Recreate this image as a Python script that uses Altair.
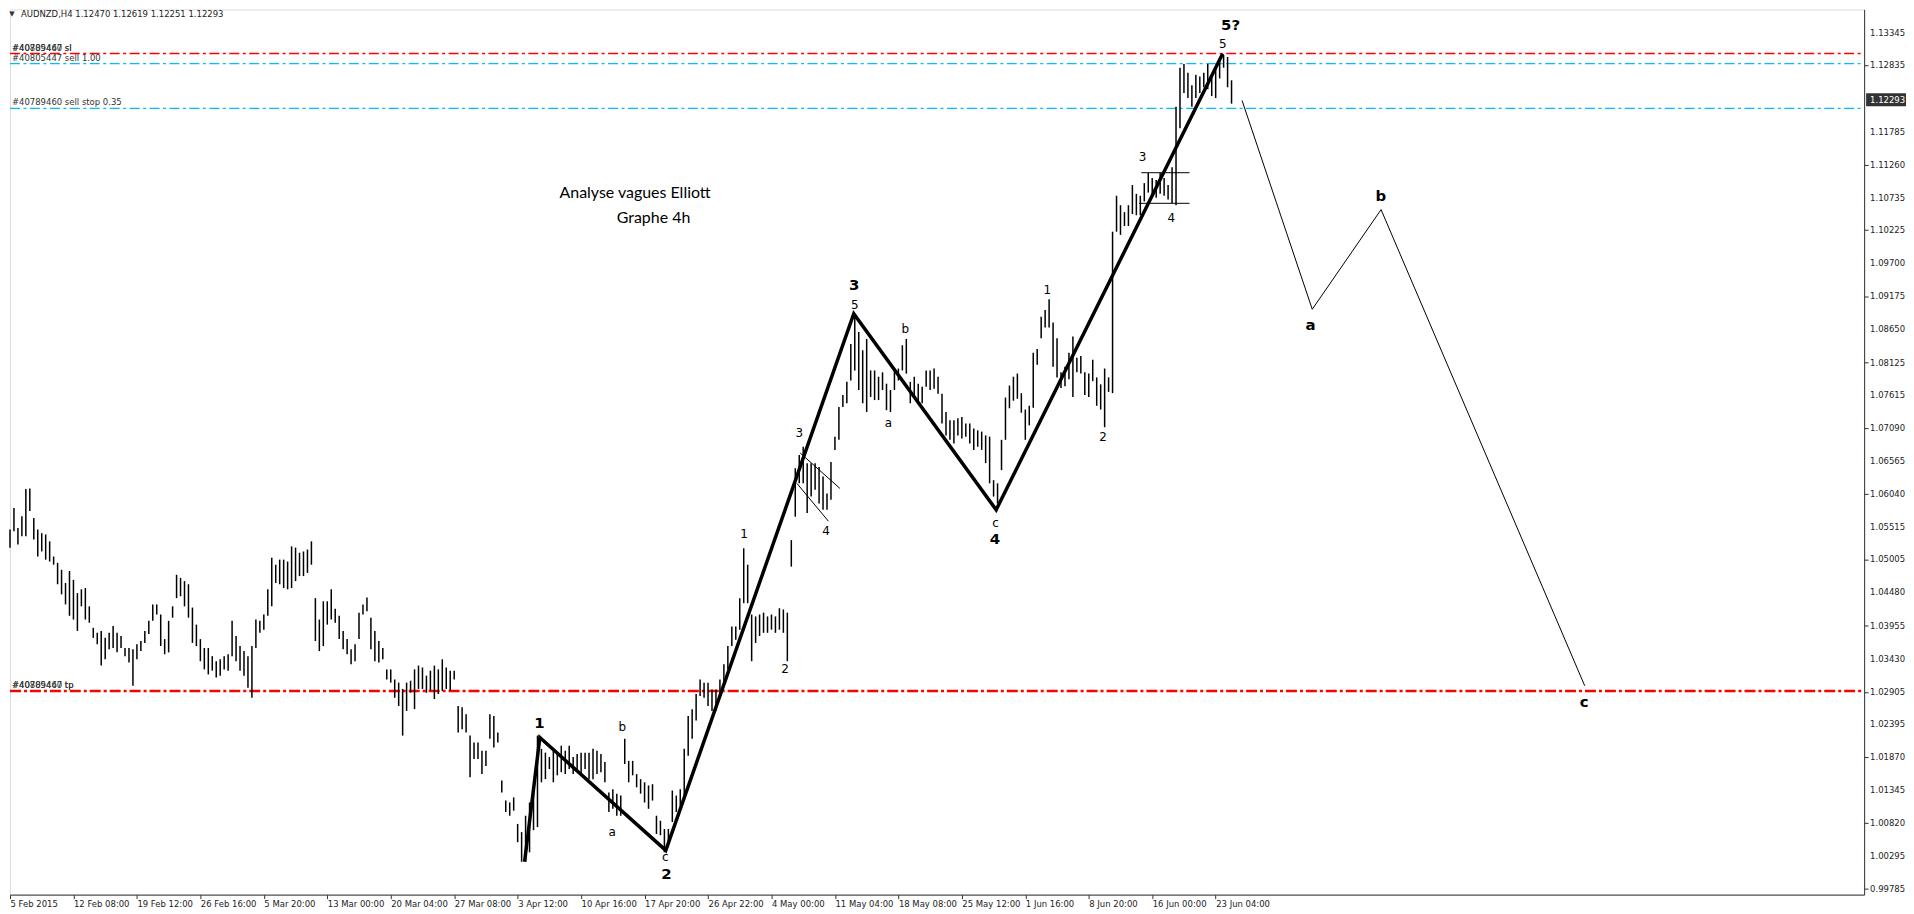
import json
import altair as alt
import pandas as pd

# ---------------- data ----------------
# H4 OHLC bars (every second bar), high / low
highs = [
    1.0548, 1.0582, 1.0550, 1.0569, 1.0612, 1.0613, 1.0566, 1.0548, 1.0542, 1.0540,
    1.0529, 1.0505, 1.0495, 1.0484, 1.0463, 1.0482, 1.0468, 1.0447, 1.0453, 1.0455,
    1.0426, 1.0392, 1.0384, 1.0387, 1.0376, 1.0384, 1.0395, 1.0384, 1.0379, 1.0360,
    1.0360, 1.0358, 1.0366, 1.0371, 1.0387, 1.0403, 1.0429, 1.0429, 1.0413, 1.0374,
    1.0403, 1.0426, 1.0476, 1.0471, 1.0466, 1.0461, 1.0424, 1.0397, 1.0374, 1.0360,
    1.0360, 1.0347, 1.0339, 1.0342, 1.0347, 1.0350, 1.0403, 1.0379, 1.0363, 1.0355,
    1.0347, 1.0363, 1.0405, 1.0403, 1.0413, 1.0453, 1.0503, 1.0492, 1.0500, 1.0500,
    1.0497, 1.0521, 1.0519, 1.0511, 1.0513, 1.0516, 1.0529, 1.0439, 1.0405, 1.0434,
    1.0434, 1.0453,
    1.0422, 1.0411, 1.0387, 1.0374, 1.0358, 1.0366, 1.0416, 1.0429,
    1.0440, 1.0408, 1.0387, 1.0371, 1.0360, 1.0326, 1.0326, 1.0310, 1.0305, 1.0295,
    1.0305, 1.0308, 1.0326, 1.0332, 1.0329, 1.0316, 1.0324, 1.0332, 1.0326, 1.0342,
    1.0329, 1.0324, 1.0324, 1.0268, 1.0266, 1.0255, 1.0221, 1.0210, 1.0210, 1.0197,
    1.0197, 1.0255, 1.0252, 1.0226, 1.0150, 1.0118, 1.0115, 1.0123, 1.0081, 1.0068,
    1.0094, 1.0115, 1.0131, 1.0221, 1.0200, 1.0194, 1.0187, 1.0200, 1.0192, 1.0205,
    1.0197, 1.0205, 1.0187, 1.0192, 1.0194, 1.0194, 1.0194, 1.0200, 1.0197, 1.0192,
    1.0179, 1.0131, 1.0136, 1.0129, 1.0126, 1.0216, 1.0181, 1.0181, 1.0160, 1.0152,
    1.0147, 1.0142, 1.0144, 1.0094, 1.0086, 1.0073, 1.0073, 1.0134, 1.0126, 1.0136,
    1.0200, 1.0252, 1.0263, 1.0287, 1.0310, 1.0305, 1.0305,
    1.0294, 1.0294, 1.0310,
    1.0334, 1.0363, 1.0394, 1.0394, 1.0439, 1.0518, 1.0492, 1.0413, 1.0410, 1.0413,
    1.0416, 1.0410, 1.0413, 1.0410, 1.0423, 1.0421, 1.0416, 1.0531, 1.0645, 1.0666,
    1.0679, 1.0653, 1.0653, 1.0653, 1.0647, 1.0632, 1.0605, 1.0655, 1.0695, 1.0742,
    1.0761, 1.0782, 1.0842, 1.0890, 1.0861, 1.0832, 1.0850, 1.0800, 1.0800, 1.0790,
    1.0797, 1.0779, 1.0769, 1.0803, 1.0803, 1.0840, 1.0850, 1.0782, 1.0790, 1.0779,
    1.0774, 1.0800, 1.0800, 1.0803, 1.0790, 1.0763, 1.0734, 1.0721, 1.0721, 1.0724,
    1.0726, 1.0716, 1.0716, 1.0708, 1.0705, 1.0703, 1.0697, 1.0695, 1.0626, 1.0621,
    1.0690, 1.0757, 1.0776, 1.0790, 1.0795,
    1.0764, 1.0738, 1.0744, 1.0828, 1.0834,
    1.0885, 1.0896, 1.0913, 1.0876, 1.0851, 1.0797, 1.0806, 1.0828, 1.0854, 1.0820,
    1.0823, 1.0797, 1.0795, 1.0817, 1.0789, 1.0778, 1.0803, 1.0789, 1.1020, 1.1077,
    1.1062, 1.1051, 1.1062, 1.1094, 1.1080, 1.1077, 1.1097, 1.1113, 1.1105, 1.1102,
    1.1113, 1.1105, 1.1094, 1.1122, 1.1218, 1.1280, 1.1286, 1.1272, 1.1252, 1.1269,
    1.1266, 1.1272, 1.1286, 1.1269, 1.1280, 1.1297, 1.1300, 1.1297, 1.1260,
]
lows = [
    1.0519, 1.0545, 1.0524, 1.0537, 1.0537, 1.0577, 1.0532, 1.0505, 1.0513, 1.0500,
    1.0497, 1.0492, 1.0461, 1.0445, 1.0429, 1.0411, 1.0405, 1.0387, 1.0426, 1.0405,
    1.0400, 1.0376, 1.0366, 1.0332, 1.0342, 1.0358, 1.0360, 1.0353, 1.0360, 1.0347,
    1.0337, 1.0300, 1.0342, 1.0355, 1.0368, 1.0382, 1.0403, 1.0413, 1.0363, 1.0350,
    1.0353, 1.0408, 1.0439, 1.0442, 1.0426, 1.0408, 1.0368, 1.0363, 1.0339, 1.0326,
    1.0318, 1.0324, 1.0313, 1.0316, 1.0326, 1.0324, 1.0347, 1.0339, 1.0324, 1.0316,
    1.0297, 1.0281, 1.0360, 1.0384, 1.0389, 1.0411, 1.0426, 1.0463, 1.0461, 1.0455,
    1.0453, 1.0455, 1.0466, 1.0474, 1.0474, 1.0479, 1.0492, 1.0371, 1.0355, 1.0363,
    1.0397, 1.0405,
    1.0400, 1.0374, 1.0358, 1.0350, 1.0334, 1.0339, 1.0374, 1.0413,
    1.0418, 1.0358, 1.0339, 1.0337, 1.0342, 1.0310, 1.0305, 1.0281, 1.0268, 1.0221,
    1.0260, 1.0289, 1.0263, 1.0295, 1.0295, 1.0289, 1.0292, 1.0279, 1.0287, 1.0292,
    1.0295, 1.0292, 1.0310, 1.0226, 1.0231, 1.0226, 1.0155, 1.0184, 1.0184, 1.0160,
    1.0173, 1.0216, 1.0202, 1.0210, 1.0131, 1.0100, 1.0094, 1.0102, 1.0052, 1.0021,
    1.0021, 1.0036, 1.0071, 1.0076, 1.0147, 1.0152, 1.0168, 1.0147, 1.0158, 1.0163,
    1.0160, 1.0168, 1.0160, 1.0163, 1.0160, 1.0168, 1.0152, 1.0152, 1.0160, 1.0163,
    1.0147, 1.0100, 1.0105, 1.0094, 1.0094, 1.0176, 1.0147, 1.0158, 1.0139, 1.0129,
    1.0115, 1.0105, 1.0118, 1.0065, 1.0063, 1.0036, 1.0044, 1.0084, 1.0100, 1.0110,
    1.0126, 1.0189, 1.0216, 1.0245, 1.0284, 1.0281, 1.0268,
    1.0260, 1.0260, 1.0289,
    1.0300, 1.0326, 1.0363, 1.0373, 1.0389, 1.0431, 1.0431, 1.0339, 1.0368, 1.0379,
    1.0384, 1.0384, 1.0389, 1.0384, 1.0389, 1.0384, 1.0339, 1.0489, 1.0568, 1.0621,
    1.0621, 1.0574, 1.0600, 1.0611, 1.0589, 1.0579, 1.0579, 1.0595, 1.0674, 1.0690,
    1.0742, 1.0748, 1.0784, 1.0800, 1.0769, 1.0748, 1.0734, 1.0758, 1.0753, 1.0753,
    1.0769, 1.0737, 1.0734, 1.0769, 1.0784, 1.0800, 1.0795, 1.0748, 1.0758, 1.0748,
    1.0748, 1.0774, 1.0769, 1.0771, 1.0763, 1.0716, 1.0697, 1.0690, 1.0684, 1.0697,
    1.0692, 1.0695, 1.0684, 1.0674, 1.0679, 1.0674, 1.0653, 1.0621, 1.0600, 1.0589,
    1.0642, 1.0690, 1.0740, 1.0752, 1.0755,
    1.0733, 1.0690, 1.0713, 1.0741, 1.0809,
    1.0851, 1.0868, 1.0868, 1.0806, 1.0789, 1.0772, 1.0775, 1.0786, 1.0758, 1.0797,
    1.0795, 1.0761, 1.0758, 1.0783, 1.0744, 1.0738, 1.0710, 1.0766, 1.0764, 1.1020,
    1.1015, 1.1029, 1.1029, 1.1048, 1.1046, 1.1046, 1.1068, 1.1082, 1.1077, 1.1074,
    1.1080, 1.1077, 1.1071, 1.1065, 1.1062, 1.1184, 1.1240, 1.1232, 1.1218, 1.1232,
    1.1240, 1.1249, 1.1246, 1.1235, 1.1232, 1.1263, 1.1280, 1.1249, 1.1223,
]

x_tick_labels = [
    "5 Feb 2015", "12 Feb 08:00", "19 Feb 12:00", "26 Feb 16:00", "5 Mar 20:00",
    "13 Mar 00:00", "20 Mar 04:00", "27 Mar 08:00", "3 Apr 12:00", "10 Apr 16:00",
    "17 Apr 20:00", "26 Apr 22:00", "4 May 00:00", "11 May 04:00", "18 May 08:00",
    "25 May 12:00", "1 Jun 16:00", "8 Jun 20:00", "16 Jun 00:00", "23 Jun 04:00",
]
bars_per_label = 32
y_tick_values = [
    1.13345, 1.12835, 1.11785, 1.11260, 1.10735, 1.10225, 1.09700, 1.09175,
    1.08650, 1.08125, 1.07615, 1.07090, 1.06565, 1.06040, 1.05515, 1.05005,
    1.04480, 1.03955, 1.03430, 1.02905, 1.02395, 1.01870, 1.01345, 1.00820,
    1.00295, 0.99785,
]
current_price = 1.12293
header_text = "AUDNZD,H4  1.12470 1.12619 1.12251 1.12293"

# Elliott count (thick line) and projected a-b-c (thin line)
wave_t = [259.5, 267.2, 330.7, 425.5, 497.3, 611.5]
wave_p = [1.0021, 1.0218, 1.0039, 1.0890, 1.0579, 1.1302]
proj_t = [621.3, 656.7, 691.4, 794.1]
proj_p = [1.1228, 1.0897, 1.1055, 1.0300]

# small helper segments (channel of sub-wave 4, box of sub-wave 3-4)
seg_t1 = [398.5, 396.8, 570.5, 569.3]
seg_p1 = [1.0669, 1.0621, 1.11135, 1.1065]
seg_t2 = [418.5, 412.7, 594.8, 594.8]
seg_p2 = [1.0613, 1.0561, 1.11135, 1.1065]

# order lines
level_prices = [1.13025, 1.12865, 1.12154]
level_colors = ["#FF0000", "#00BFFF", "#00BFFF"]
tp_price = 1.02916
order_texts = ["#40805447 sl", "#40789460 sl", "#40805447 sell 1.00",
               "#40789460 sell stop 0.35", "#40805447 tp", "#40789460 tp"]
order_prices = [1.13025, 1.13025, 1.12865, 1.12154, 1.02916, 1.02916]

# wave labels
big_text = ["1", "2", "3", "4", "5?", "a", "b", "c"]
big_t = [267.0, 331.0, 425.75, 496.75, 615.5, 655.85, 691.25, 793.8]
big_p = [1.0241, 1.0002, 1.0936, 1.0532, 1.1348, 1.0872, 1.1076, 1.0274]
small_text = ["b", "a", "c", "1", "2", "3", "4", "5", "b", "a", "c",
              "1", "2", "3", "4", "5"]
small_t = [308.75, 303.7, 330.5, 370.15, 390.85, 398.0, 411.5, 426.0, 451.5, 443.0,
           497.0, 523.15, 551.15, 571.15, 585.65, 611.65]
small_p = [1.0235, 1.0068, 1.0028, 1.0541, 1.0327, 1.0701, 1.0546, 1.0904, 1.0866,
           1.0716, 1.0558, 1.0927, 1.0694, 1.1138, 1.1041, 1.1318]

title_lines = ["Analyse vagues Elliott", "Graphe 4h"]
title_t = [315.25, 324.5]
title_p = [1.1082, 1.1042]

# ---------------- chart ----------------
W, H = 1860, 888
T_MAX = 935
P_MIN, P_MAX = 0.99689, 1.13724
FONT = "DejaVu Sans"

n = min(len(highs), len(lows))
bars = pd.DataFrame({"t": [2 * i for i in range(n)], "high": highs[:n], "low": lows[:n]})

xs = alt.Scale(domain=[0, T_MAX], nice=False, zero=False)
ys = alt.Scale(domain=[P_MIN, P_MAX], nice=False, zero=False)

label_expr = json.dumps(x_tick_labels) + "[round(datum.value / %d)]" % bars_per_label
x_axis = alt.Axis(values=[bars_per_label * k for k in range(len(x_tick_labels))],
                  labelExpr=label_expr, labelAlign="left", labelPadding=1,
                  tickSize=4, labelFont=FONT, labelFontSize=8.5, labelColor="#222",
                  tickColor="#333", domainColor="#333", grid=False, title=None,
                  labelOverlap=False, labelFlush=False)
y_axis = alt.Axis(values=y_tick_values, orient="right", tickSize=4, labels=False,
                  tickColor="#333", domainColor="#333", grid=False, title=None)

ohlc = alt.Chart(bars).mark_rule(color="black", strokeWidth=1.5).encode(
    x=alt.X("t:Q", scale=xs, axis=x_axis),
    y=alt.Y("low:Q", scale=ys, axis=y_axis),
    y2="high:Q",
)

# price labels of the right axis
yl = pd.DataFrame({"p": y_tick_values, "txt": ["%.5f" % v for v in y_tick_values]})
y_labels = alt.Chart(yl).mark_text(align="left", baseline="middle", font=FONT,
                                   fontSize=8.5, color="#222").encode(
    x=alt.value(W + 6), y="p:Q", text="txt:N")

lv = pd.DataFrame({"p": level_prices, "c": level_colors})
levels = alt.Chart(lv).mark_rule(strokeWidth=1.3, strokeDash=[10, 3.5, 3, 3.5]).encode(
    y="p:Q", x=alt.value(0), x2=alt.value(W), color=alt.Color("c:N", scale=None)
)
tp = alt.Chart(pd.DataFrame({"p": [tp_price]})).mark_rule(
    strokeWidth=2.5, color="#FF0000", strokeDash=[11, 3, 3, 3]
).encode(y="p:Q", x=alt.value(0), x2=alt.value(W))

od = pd.DataFrame({"txt": order_texts, "p": order_prices, "t": [1.0] * len(order_texts)})
order_lbl = alt.Chart(od).mark_text(
    align="left", baseline="bottom", dy=-1, font=FONT, fontSize=8.5, color="#333"
).encode(x="t:Q", y="p:Q", text="txt:N")

wd = pd.DataFrame({"t": wave_t, "p": wave_p, "o": list(range(len(wave_t)))})
wave = alt.Chart(wd).mark_line(color="black", strokeWidth=3.5, strokeJoin="miter").encode(
    x="t:Q", y="p:Q", order="o:Q")
pdf = pd.DataFrame({"t": proj_t, "p": proj_p, "o": list(range(len(proj_t)))})
proj = alt.Chart(pdf).mark_line(color="black", strokeWidth=1).encode(
    x="t:Q", y="p:Q", order="o:Q")

sd = pd.DataFrame({"t1": seg_t1, "p1": seg_p1, "t2": seg_t2, "p2": seg_p2})
segs = alt.Chart(sd).mark_rule(color="black", strokeWidth=1).encode(
    x="t1:Q", y="p1:Q", x2="t2:Q", y2="p2:Q")

bd = pd.DataFrame({"t": big_t, "p": big_p, "txt": big_text})
big = alt.Chart(bd).mark_text(font=FONT, fontSize=15, fontWeight="bold", color="black",
                              baseline="middle").encode(x="t:Q", y="p:Q", text="txt:N")
smd = pd.DataFrame({"t": small_t, "p": small_p, "txt": small_text})
small = alt.Chart(smd).mark_text(font=FONT, fontSize=12, color="black",
                                 baseline="middle").encode(x="t:Q", y="p:Q", text="txt:N")

td = pd.DataFrame({"t": title_t, "p": title_p, "txt": title_lines})
title = alt.Chart(td).mark_text(font="Lato", fontSize=16, color="black",
                                baseline="middle").encode(x="t:Q", y="p:Q", text="txt:N")

header = alt.Chart(pd.DataFrame({"txt": [header_text]})).mark_text(
    align="left", baseline="middle", font=FONT, fontSize=8.5, color="#222"
).encode(x=alt.value(11), y=alt.value(5), text="txt:N")
tri = alt.Chart(pd.DataFrame({"txt": ["\u25BC"]})).mark_text(
    align="center", baseline="middle", font=FONT, fontSize=7, color="#333"
).encode(x=alt.value(2), y=alt.value(5), text="txt:N")

cp = pd.DataFrame({"p": [current_price], "hi": [current_price + 0.00103],
                   "lo": [current_price - 0.00103], "txt": ["%.5f" % current_price]})
cp_box = alt.Chart(cp).mark_rect(color="#333").encode(
    x=alt.value(W + 2), x2=alt.value(W + 42), y="lo:Q", y2="hi:Q")
cp_txt = alt.Chart(cp).mark_text(align="left", baseline="middle", font=FONT,
                                 fontSize=8.5, color="white").encode(
    x=alt.value(W + 6), y="p:Q", text="txt:N")

chart = alt.layer(
    levels, tp, ohlc, segs, wave, proj, order_lbl, big, small, title, header, tri,
    y_labels, cp_box, cp_txt,
).properties(width=W, height=H, padding=0).configure_view(
    stroke="#444", strokeWidth=1
).configure(background="white")

chart.save("out.html", embed_options={"renderer": "svg", "actions": False})
